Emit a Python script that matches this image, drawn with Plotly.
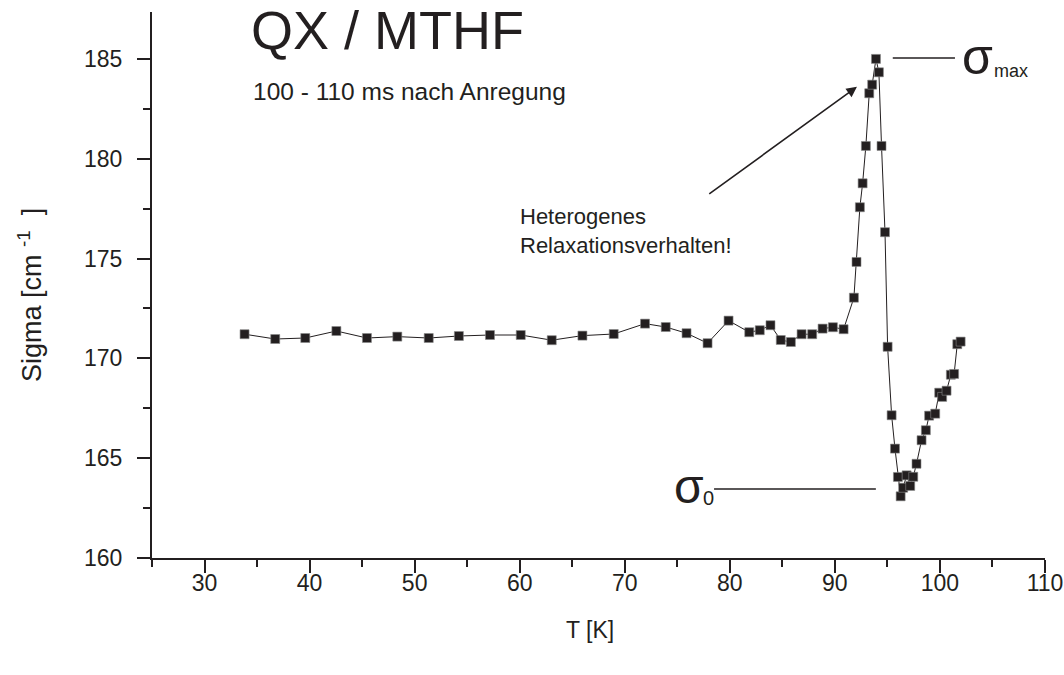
import plotly.graph_objects as go

# Data
T_K = [33.81, 36.73, 39.59, 42.55, 45.46, 48.35, 51.34, 54.21, 57.17, 60.10,
       63.05, 65.97, 68.95, 71.93, 73.90, 75.88, 77.88, 79.88, 81.85, 82.85,
       83.87, 84.85, 85.81, 86.83, 87.84, 88.83, 89.81, 90.83, 91.81, 92.06,
       92.38, 92.64, 92.95, 93.27, 93.55, 93.91, 94.19, 94.44, 94.77, 95.02,
       95.40, 95.72, 96.00, 96.26, 96.50, 96.83, 97.17, 97.46, 97.77, 98.25,
       98.66, 98.97, 99.55, 99.93, 100.21, 100.63, 101.04, 101.35, 101.65, 101.97]
sigma = [171.21, 170.97, 171.02, 171.37, 171.02, 171.09, 171.02, 171.12, 171.17, 171.17,
         170.91, 171.14, 171.22, 171.74, 171.57, 171.26, 170.76, 171.89, 171.31, 171.41,
         171.66, 170.92, 170.82, 171.21, 171.21, 171.49, 171.56, 171.46, 173.04, 174.83,
         177.57, 178.77, 180.64, 183.28, 183.71, 185.00, 184.33, 180.64, 176.32, 170.58,
         167.15, 165.48, 164.06, 163.09, 163.52, 164.14, 163.61, 164.07, 164.72, 165.90,
         166.40, 167.13, 167.23, 168.28, 168.07, 168.38, 169.18, 169.22, 170.71, 170.84]

x_ticks = [30, 40, 50, 60, 70, 80, 90, 100, 110]
y_ticks = [160, 165, 170, 175, 180, 185]

title_text = "QX / MTHF"
subtitle_text = "100 - 110 ms nach Anregung"
note_text = "Heterogenes<br>Relaxationsverhalten!"
x_title = "T [K]"
y_title = "Sigma [cm <sup>-1</sup>  ]"

INK = "#231f20"
FONT = "Liberation Sans, Arial, sans-serif"

fig = go.Figure()
fig.add_trace(go.Scatter(
    x=T_K, y=sigma, mode="lines+markers",
    line=dict(color=INK, width=1),
    marker=dict(symbol="square", size=9, color=INK, line=dict(color="#888888", width=0.6)),
    showlegend=False, hoverinfo="skip",
))

axis_common = dict(
    showline=True, linecolor=INK, linewidth=2, mirror=False,
    ticks="outside", ticklen=13, tickwidth=2, tickcolor=INK,
    showgrid=False, zeroline=False, automargin=False,
    tickfont=dict(family=FONT, size=23, color=INK),
)

fig.update_xaxes(
    range=[25, 110], tickvals=x_ticks, ticklabelstandoff=-10,
    minor=dict(dtick=5, tick0=25, ticks="outside", ticklen=7, tickwidth=2, tickcolor=INK),
    **axis_common,
)
fig.update_yaxes(
    range=[160, 187.35], tickvals=y_ticks, ticklabelstandoff=10,
    minor=dict(dtick=2.5, tick0=160, ticks="outside", ticklen=7, tickwidth=2, tickcolor=INK),
    **axis_common,
)

# Axis titles placed as paper annotations (plot area: x 152..1045 px, y 12..558 px)
fig.add_annotation(xref="paper", yref="paper", x=(590 - 152) / 893, y=(558 - 630) / 546,
                   text=x_title, showarrow=False, xanchor="center", yanchor="middle",
                   font=dict(family=FONT, size=23, color=INK))
fig.add_annotation(xref="paper", yref="paper", x=(30 - 152) / 893, y=(558 - 295) / 546,
                   text=y_title, showarrow=False, xanchor="center", yanchor="middle",
                   textangle=-90, font=dict(family=FONT, size=27, color=INK))

# Reference lines for sigma labels
fig.add_shape(type="line", x0=95.51, x1=101.43, y0=185.05, y1=185.05,
              line=dict(color=INK, width=1.5), xref="x", yref="y")
fig.add_shape(type="line", x0=78.5, x1=93.9, y0=163.46, y1=163.46,
              line=dict(color=INK, width=1.5), xref="x", yref="y")

annos = [
    dict(x=34.2, y=186.45, text=title_text, font=dict(family=FONT, size=54, color=INK),
         xanchor="left", yanchor="middle"),
    dict(x=34.4, y=183.35, text=subtitle_text, font=dict(family=FONT, size=24.5, color=INK),
         xanchor="left", yanchor="middle"),
    dict(x=59.8, y=176.4, text=note_text, font=dict(family=FONT, size=22, color=INK),
         xanchor="left", yanchor="middle", align="left"),
    # sigma max
    dict(x=101.9, y=185.1, text="σ", font=dict(family=FONT, size=50, color=INK),
         xanchor="left", yanchor="middle"),
    dict(x=105.0, y=184.4, text="max", font=dict(family=FONT, size=18, color=INK),
         xanchor="left", yanchor="middle"),
    # sigma 0
    dict(x=77.75, y=163.6, text="σ", font=dict(family=FONT, size=48, color=INK),
         xanchor="right", yanchor="middle"),
    dict(x=77.3, y=163.0, text="0", font=dict(family=FONT, size=20, color=INK),
         xanchor="left", yanchor="middle"),
]
for a in annos:
    fig.add_annotation(xref="x", yref="y", showarrow=False, **a)

# Arrow
fig.add_annotation(x=92.1, y=183.6, ax=77.9, ay=178.19, xref="x", yref="y",
                   axref="x", ayref="y", text="", showarrow=True,
                   arrowhead=2, arrowsize=1.3, arrowwidth=1.6, arrowcolor=INK)

fig.update_layout(
    width=1064, height=675,
    margin=dict(l=152, r=19, t=12, b=117),
    paper_bgcolor="white", plot_bgcolor="white",
    font=dict(family=FONT, color=INK),
    hovermode=False,
)

fig.write_html("out.html", config={"displayModeBar": False},
               post_script="document.body.style.margin='0';document.body.style.overflow='hidden';")
